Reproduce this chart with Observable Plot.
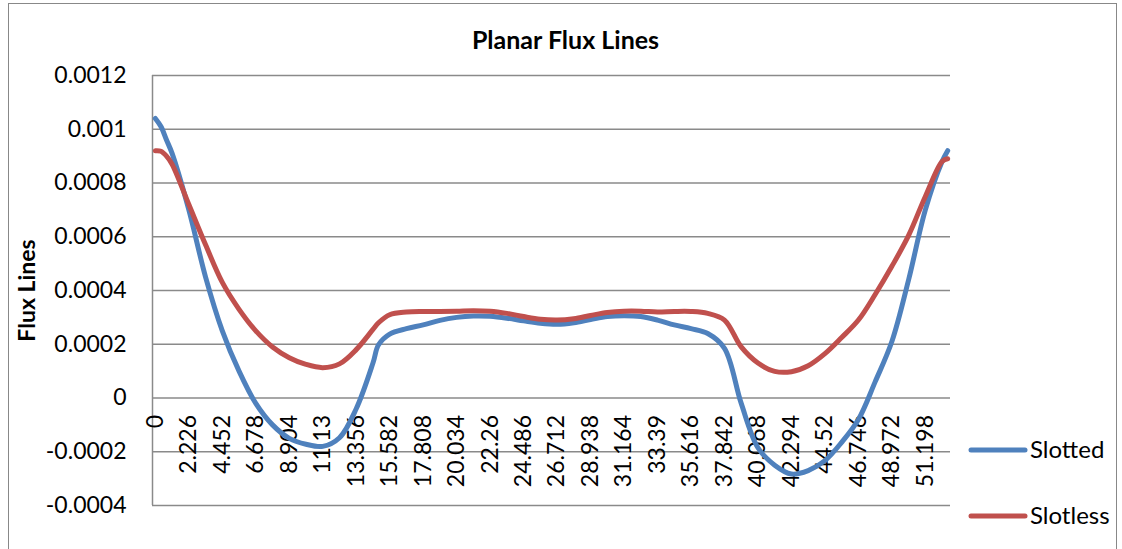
<!DOCTYPE html>
<html>
<head>
<meta charset="utf-8">
<script src="https://cdn.jsdelivr.net/npm/d3@7"></script>
<script src="https://cdn.jsdelivr.net/npm/@observablehq/plot@0.6"></script>
<style>
  html, body { margin: 0; padding: 0; background: #fff; overflow: hidden; }
  #wrap { position: relative; width: 1122px; height: 549px; background: #fff; }
  #border { position: absolute; left: 8px; top: 3px; width: 1109px; height: 600px;
            border: 1.5px solid #888; box-sizing: border-box; }
  #chart { position: absolute; left: 0; top: 0; }
</style>
</head>
<body>
<div id="wrap"><div id="border"></div><div id="chart"></div></div>
<script>
// Position along the planar section
const position = [
  0, 0.371, 0.742, 1.113, 2.226, 3.339, 4.452, 5.565, 6.678, 7.791, 8.904, 10.017,
  11.13, 12.243, 13.356, 14.469, 14.84, 15.582, 16.695, 17.808, 18.921, 20.034,
  21.147, 22.26, 23.373, 24.486, 25.599, 26.712, 27.825, 28.938, 30.051, 31.164,
  32.277, 33.39, 34.503, 35.616, 36.729, 37.842, 38.955, 40.068, 41.181, 42.294,
  43.407, 44.52, 45.633, 46.746, 47.859, 48.972, 50.085, 51.198, 52.311, 52.682
];

// Flux lines, slotted machine
const slotted = [
  0.00104, 0.00101, 0.00096, 0.00091, 0.0007, 0.00045, 0.00025, 0.0001, -0.00002, -0.0001, -0.00015, -0.000172,
  -0.00018, -0.000148, -0.00004, 0.00013, 0.000198, 0.000238, 0.000258, 0.000272, 0.000289, 0.0003,
  0.000305, 0.000304, 0.000297, 0.000287, 0.000278, 0.000274, 0.00028, 0.000292, 0.000303, 0.000306,
  0.000303, 0.00029, 0.000272, 0.000258, 0.00024, 0.000185, -0.00002, -0.000185, -0.00025, -0.000283,
  -0.00027, -0.000233, -0.000165, -0.00008, 0.00006, 0.00021, 0.00044, 0.0007, 0.00088, 0.00092
];

// Flux lines, slotless machine
const slotless = [
  0.00092, 0.000918, 0.0009, 0.00087, 0.00072, 0.00057, 0.00043, 0.00033, 0.00025, 0.00019, 0.00015, 0.000125,
  0.000113, 0.000127, 0.00018, 0.000255, 0.00028, 0.00031, 0.00032, 0.000322, 0.000322, 0.000323,
  0.000325, 0.000323, 0.000315, 0.000303, 0.000293, 0.00029, 0.000295, 0.000307, 0.000318, 0.000323,
  0.000323, 0.00032, 0.000322, 0.000322, 0.000315, 0.00029, 0.00019, 0.00013, 0.000099, 0.000098,
  0.00012, 0.000165, 0.000225, 0.00029, 0.000385, 0.00049, 0.000605, 0.00075, 0.00088, 0.00089
];

// Category labels on the horizontal axis
const xTicks = [
  0, 2.226, 4.452, 6.678, 8.904, 11.13, 13.356, 15.582, 17.808, 20.034, 22.26, 24.486,
  26.712, 28.938, 31.164, 33.39, 35.616, 37.842, 40.068, 42.294, 44.52, 46.746, 48.972, 51.198
];

// Value axis ticks
const yTicks = [-0.0004, -0.0002, 0, 0.0002, 0.0004, 0.0006, 0.0008, 0.001, 0.0012];

const seriesNames = ["Slotted", "Slotless"];
const seriesColors = ["#4F81BD", "#C0504D"];

const rows = [];
position.forEach((x, i) => {
  rows.push({x, y: slotted[i], series: seriesNames[0]});
  rows.push({x, y: slotless[i], series: seriesNames[1]});
});

const font = "Lato, 'Open Sans', sans-serif";
const grid = "#8a8a8a";
const xDomain = [-0.19, 52.87];

const plot = Plot.plot({
  width: 1122,
  height: 549,
  marginLeft: 152,
  marginRight: 172,
  marginTop: 75,
  marginBottom: 44,
  style: {fontFamily: font, fontSize: "23px", color: "#000", background: "transparent", overflow: "visible"},
  x: {domain: xDomain, axis: null},
  y: {domain: [-0.0004, 0.0012], axis: null},
  color: {domain: seriesNames, range: seriesColors},
  marks: [
    Plot.ruleY(yTicks, {stroke: grid, strokeWidth: 1.5}),
    Plot.ruleX([xDomain[0]], {y1: -0.0004, y2: 0.0012, stroke: grid, strokeWidth: 1.5}),
    Plot.axisY({
      ticks: yTicks, tickSize: 0, tickPadding: 26,
      tickFormat: d => String(d), fontSize: 23, label: null
    }),
    Plot.text(xTicks, {
      x: d => d, y: () => 0, text: d => String(d),
      rotate: -90, textAnchor: "end", dy: 17, fontSize: 23, fill: "#000"
    }),
    Plot.line(rows, {
      x: "x", y: "y", z: "series", stroke: "series",
      curve: "catmull-rom", strokeWidth: 5, strokeLinecap: "round", strokeLinejoin: "round"
    }),
    Plot.text(["Planar Flux Lines"], {
      frameAnchor: "top", dx: 14, dy: -27, lineAnchor: "bottom", text: d => d,
      fontWeight: "bold", fontSize: 25, fill: "#000"
    }),
    Plot.text(["Flux Lines"], {
      frameAnchor: "left", dx: -125, rotate: -90, textAnchor: "middle", text: d => d,
      fontWeight: "bold", fontSize: 23, fill: "#000"
    })
  ]
});

document.getElementById("chart").appendChild(plot);

// Legend at the right of the plot area
const svg = d3.select(plot);
const legend = svg.append("g").attr("font-family", font).attr("font-size", 24).attr("text-anchor", "start");
const legendY = [450, 516];
seriesNames.forEach((name, i) => {
  const g = legend.append("g").attr("transform", `translate(0,${legendY[i]})`);
  g.append("line").attr("x1", 971).attr("x2", 1025).attr("y1", 0).attr("y2", 0)
    .attr("stroke", seriesColors[i]).attr("stroke-width", 5).attr("stroke-linecap", "round");
  g.append("text").attr("x", 1030).attr("y", 0).attr("dy", "0.35em").attr("fill", "#000").text(name);
});
</script>
</body>
</html>
